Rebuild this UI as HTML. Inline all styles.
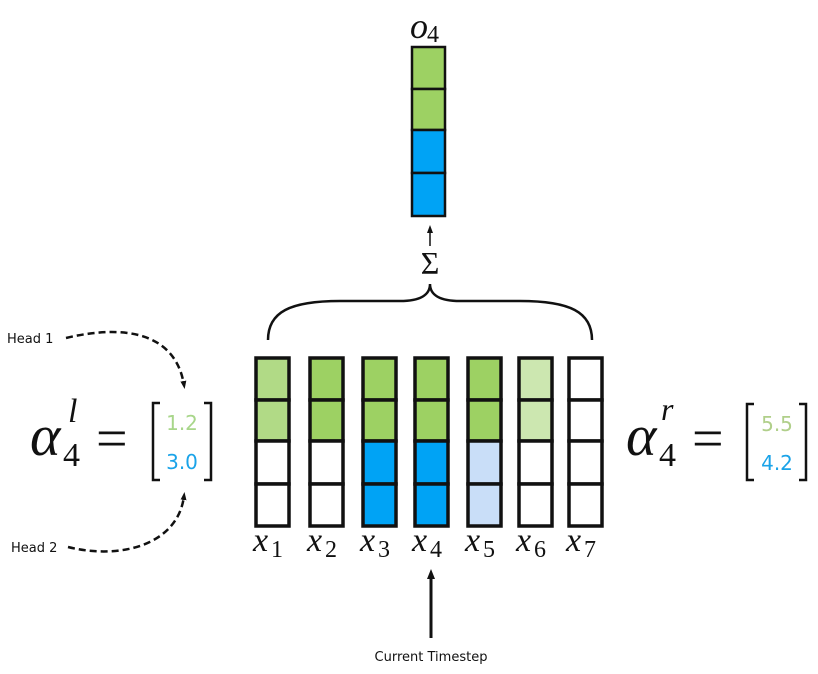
<!DOCTYPE html>
<html><head><meta charset="utf-8"><style>
html,body{margin:0;padding:0;background:#fff;}
svg{display:block;}
</style></head><body>
<svg width="818" height="674" viewBox="0 0 818 674" xmlns="http://www.w3.org/2000/svg">
<defs>
<marker id="ah" markerUnits="userSpaceOnUse" markerWidth="10" markerHeight="10" refX="5" refY="5" orient="auto"><path d="M0,1 L10,5 L0,9 z" fill="#111"/></marker>
<marker id="ahs" markerUnits="userSpaceOnUse" markerWidth="8" markerHeight="8" refX="4" refY="4" orient="auto"><path d="M0,1 L8,4 L0,7 z" fill="#111"/></marker>
</defs>
<g font-family="Liberation Serif, DejaVu Serif, serif" fill="#111">
<!-- output column -->
<g stroke="#111" stroke-width="2.5">
<rect x="412" y="47" width="33" height="42" fill="#9dd163"/>
<rect x="412" y="89" width="33" height="41" fill="#9dd163"/>
<rect x="412" y="130" width="33" height="43" fill="#00a3f5"/>
<rect x="412" y="173" width="33" height="43" fill="#00a3f5"/>
</g>
<text x="410" y="38" font-style="italic" font-size="36">o</text><text x="427" y="42" font-size="24">4</text>
<line x1="430" y1="246" x2="430" y2="229" stroke="#111" stroke-width="1.5" marker-end="url(#ahs)"/>
<text x="430" y="274" font-size="32" text-anchor="middle">Σ</text>
<path d="M268,340 C268,312 290,301 340,301 L400,301 C420,301 430,295 430,284 C430,295 440,301 460,301 L520,301 C570,301 592,312 592,340" fill="none" stroke="#111" stroke-width="2.5"/>
<!-- columns -->
<g stroke="#111" stroke-width="3.5">
<rect x="256" y="358" width="33" height="42" fill="#b1da86"/><rect x="256" y="400" width="33" height="41" fill="#b1da86"/><rect x="256" y="441" width="33" height="43" fill="#fff"/><rect x="256" y="484" width="33" height="42" fill="#fff"/>
<rect x="310" y="358" width="33" height="42" fill="#9dd163"/><rect x="310" y="400" width="33" height="41" fill="#9dd163"/><rect x="310" y="441" width="33" height="43" fill="#fff"/><rect x="310" y="484" width="33" height="42" fill="#fff"/>
<rect x="363" y="358" width="33" height="42" fill="#9dd163"/><rect x="363" y="400" width="33" height="41" fill="#9dd163"/><rect x="363" y="441" width="33" height="43" fill="#00a3f5"/><rect x="363" y="484" width="33" height="42" fill="#00a3f5"/>
<rect x="415" y="358" width="33" height="42" fill="#9dd163"/><rect x="415" y="400" width="33" height="41" fill="#9dd163"/><rect x="415" y="441" width="33" height="43" fill="#00a3f5"/><rect x="415" y="484" width="33" height="42" fill="#00a3f5"/>
<rect x="468" y="358" width="33" height="42" fill="#9dd163"/><rect x="468" y="400" width="33" height="41" fill="#9dd163"/><rect x="468" y="441" width="33" height="43" fill="#c9def8"/><rect x="468" y="484" width="33" height="42" fill="#c9def8"/>
<rect x="519" y="358" width="33" height="42" fill="#cce7b0"/><rect x="519" y="400" width="33" height="41" fill="#cce7b0"/><rect x="519" y="441" width="33" height="43" fill="#fff"/><rect x="519" y="484" width="33" height="42" fill="#fff"/>
<rect x="569" y="358" width="33" height="42" fill="#fff"/><rect x="569" y="400" width="33" height="41" fill="#fff"/><rect x="569" y="441" width="33" height="43" fill="#fff"/><rect x="569" y="484" width="33" height="42" fill="#fff"/>
</g>
<g font-size="34">
<text x="253" y="551" font-style="italic">x</text><text x="271" y="557" font-size="24">1</text>
<text x="307" y="551" font-style="italic">x</text><text x="325" y="557" font-size="24">2</text>
<text x="360" y="551" font-style="italic">x</text><text x="378" y="557" font-size="24">3</text>
<text x="412" y="551" font-style="italic">x</text><text x="430" y="557" font-size="24">4</text>
<text x="465" y="551" font-style="italic">x</text><text x="483" y="557" font-size="24">5</text>
<text x="516" y="551" font-style="italic">x</text><text x="534" y="557" font-size="24">6</text>
<text x="566" y="551" font-style="italic">x</text><text x="584" y="557" font-size="24">7</text>
</g>
<!-- left alpha -->
<text x="30" y="455" font-style="italic" font-size="58">α</text>
<text x="63" y="466" font-size="34">4</text>
<text x="68" y="422" font-style="italic" font-size="34">l</text>
<text x="96" y="457" font-size="56">=</text>
<!-- right alpha -->
<text x="626" y="455" font-style="italic" font-size="58">α</text>
<text x="659" y="466" font-size="34">4</text>
<text x="661" y="420" font-style="italic" font-size="32">r</text>
<text x="692" y="457" font-size="56">=</text>
</g>
<!-- current timestep -->
<line x1="431" y1="638" x2="431" y2="574" stroke="#111" stroke-width="3" marker-end="url(#ah)"/>
<g font-family="DejaVu Sans, Liberation Sans, sans-serif">
<text x="431" y="661" font-size="13" fill="#111" text-anchor="middle">Current Timestep</text>
<text x="182" y="430" font-size="20" fill="#a8d68a" text-anchor="middle">1.2</text>
<text x="182" y="469" font-size="20" fill="#1aa3e8" text-anchor="middle">3.0</text>
<text x="777" y="431" font-size="20" fill="#b0cf8a" text-anchor="middle">5.5</text>
<text x="777" y="470" font-size="20" fill="#1aa3e8" text-anchor="middle">4.2</text>
<text x="7" y="343" font-size="13" fill="#111">Head 1</text>
<text x="11" y="552" font-size="13" fill="#111">Head 2</text>
</g>
<path d="M160,403 L153,403 L153,480 L160,480 M204,403 L211,403 L211,480 L204,480" fill="none" stroke="#111" stroke-width="2.5"/>
<path d="M754,404 L747,404 L747,480 L754,480 M799,404 L806,404 L806,480 L799,480" fill="none" stroke="#111" stroke-width="2.5"/>
<path d="M66,338 C120,325 175,330 184,385" fill="none" stroke="#111" stroke-width="2.5" stroke-dasharray="7,4" marker-end="url(#ahs)"/>
<path d="M68,547 C120,560 178,545 184,496" fill="none" stroke="#111" stroke-width="2.5" stroke-dasharray="7,4" marker-end="url(#ahs)"/>
</svg>
</body></html>
